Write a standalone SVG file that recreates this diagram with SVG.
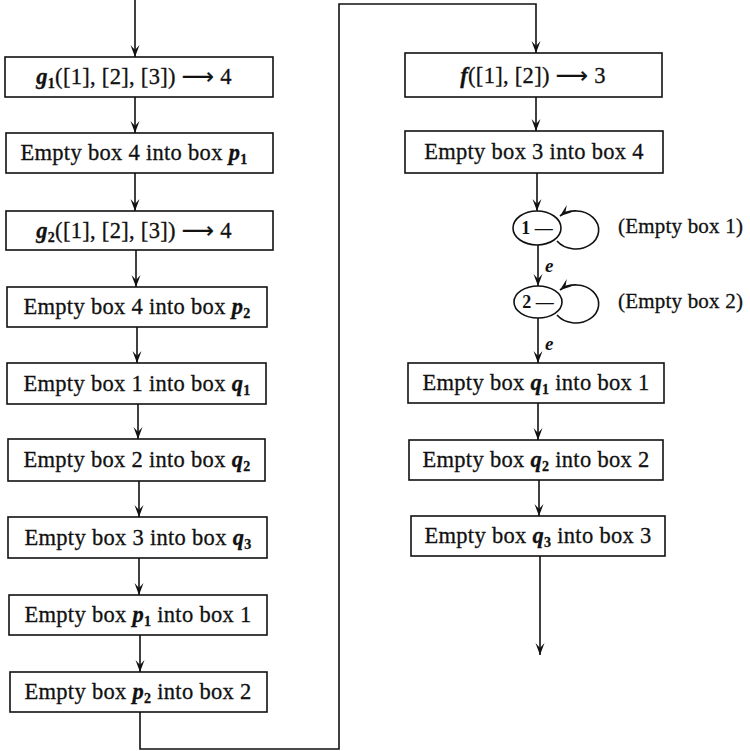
<svg xmlns="http://www.w3.org/2000/svg" width="750" height="751" viewBox="0 0 750 751">
<defs>
<style>
.box{fill:#fff;stroke:#111;stroke-width:1.6}
.ln{fill:none;stroke:#111;stroke-width:1.6}
.t{font-family:"Liberation Serif",serif;font-size:22.5px;fill:#111;text-anchor:middle;letter-spacing:0.3px;stroke:#111;stroke-width:0.3}
.tl{font-family:"Liberation Serif",serif;font-size:21px;fill:#111;letter-spacing:0.2px;stroke:#111;stroke-width:0.3}
.i{font-style:italic;font-weight:bold}
.s{font-size:14px;font-weight:bold}
.ar{font-family:"DejaVu Sans",sans-serif}
.c{font-family:"Liberation Serif",serif;font-size:18px;fill:#111;text-anchor:middle;font-weight:bold}
.e{font-family:"Liberation Serif",serif;font-size:19px;font-style:italic;font-weight:bold;fill:#111}
</style>
<marker id="ah" viewBox="-12 -5 13 10" refX="0" refY="0" markerWidth="13" markerHeight="10" markerUnits="userSpaceOnUse" orient="auto">
<path d="M0,0 L-12,-4.5 L-7,0 L-12,4.5 Z" fill="#111"/>
</marker>
</defs>
<g id="connectors">
<line class="ln" x1="135" y1="0" x2="135" y2="57" marker-end="url(#ah)"/>
<line class="ln" x1="135" y1="97" x2="135" y2="133" marker-end="url(#ah)"/>
<line class="ln" x1="135" y1="173" x2="135" y2="211" marker-end="url(#ah)"/>
<line class="ln" x1="136" y1="250" x2="136" y2="287" marker-end="url(#ah)"/>
<line class="ln" x1="137" y1="327" x2="137" y2="363" marker-end="url(#ah)"/>
<line class="ln" x1="138" y1="404" x2="138" y2="439" marker-end="url(#ah)"/>
<line class="ln" x1="139" y1="481" x2="139" y2="517" marker-end="url(#ah)"/>
<line class="ln" x1="139" y1="558" x2="139" y2="595" marker-end="url(#ah)"/>
<line class="ln" x1="140" y1="635" x2="140" y2="672" marker-end="url(#ah)"/>
<polyline class="ln" points="140,712 140,749 339,749 339,4 536,4 536,53" marker-end="url(#ah)"/>
<line class="ln" x1="536" y1="97" x2="536" y2="131" marker-end="url(#ah)"/>
<line class="ln" x1="537" y1="173" x2="537" y2="211" marker-end="url(#ah)"/>
<line class="ln" x1="538" y1="245" x2="538" y2="286" marker-end="url(#ah)"/>
<line class="ln" x1="538" y1="318" x2="538" y2="363" marker-end="url(#ah)"/>
<line class="ln" x1="538" y1="403" x2="538" y2="440" marker-end="url(#ah)"/>
<line class="ln" x1="539" y1="480" x2="539" y2="516" marker-end="url(#ah)"/>
<line class="ln" x1="540" y1="556" x2="540" y2="655" marker-end="url(#ah)"/>
<path class="ln" d="M557,241 A23 19 0 1 0 560,216" marker-end="url(#ah)"/>
<path class="ln" d="M557,315 A23 19 0 1 0 560,290" marker-end="url(#ah)"/>
<text class="e" x="545" y="272">e</text>
<text class="e" x="545" y="350">e</text>
</g>
<g id="n1"><rect class="box" x="5" y="57" width="268" height="40"/>
<text class="t" x="134" y="84"><tspan class="i">g</tspan><tspan class="s" dy="4">1</tspan><tspan dy="-4">([1], [2], [3]) </tspan><tspan class="ar">⟶</tspan> 4</text></g>
<g id="n2"><rect class="box" x="6" y="133" width="267" height="40"/>
<text class="t" x="134" y="160">Empty box 4 into box <tspan class="i">p</tspan><tspan class="s" dy="4">1</tspan></text></g>
<g id="n3"><rect class="box" x="6" y="211" width="267" height="39"/>
<text class="t" x="134" y="238"><tspan class="i">g</tspan><tspan class="s" dy="4">2</tspan><tspan dy="-4">([1], [2], [3]) </tspan><tspan class="ar">⟶</tspan> 4</text></g>
<g id="n4"><rect class="box" x="7" y="287" width="260" height="40"/>
<text class="t" x="137" y="314">Empty box 4 into box <tspan class="i">p</tspan><tspan class="s" dy="4">2</tspan></text></g>
<g id="n5"><rect class="box" x="7" y="363" width="259" height="41"/>
<text class="t" x="137" y="391">Empty box 1 into box <tspan class="i">q</tspan><tspan class="s" dy="4">1</tspan></text></g>
<g id="n6"><rect class="box" x="8" y="439" width="257" height="42"/>
<text class="t" x="137" y="467">Empty box 2 into box <tspan class="i">q</tspan><tspan class="s" dy="4">2</tspan></text></g>
<g id="n7"><rect class="box" x="8" y="517" width="259" height="41"/>
<text class="t" x="138" y="545">Empty box 3 into box <tspan class="i">q</tspan><tspan class="s" dy="4">3</tspan></text></g>
<g id="n8"><rect class="box" x="9" y="595" width="258" height="40"/>
<text class="t" x="138" y="622">Empty box <tspan class="i">p</tspan><tspan class="s" dy="4">1</tspan><tspan dy="-4"> into box 1</tspan></text></g>
<g id="n9"><rect class="box" x="10" y="672" width="257" height="40"/>
<text class="t" x="138" y="699">Empty box <tspan class="i">p</tspan><tspan class="s" dy="4">2</tspan><tspan dy="-4"> into box 2</tspan></text></g>
<g id="r1"><rect class="box" x="405" y="53" width="257" height="44"/>
<text class="t" x="533" y="83"><tspan class="i">f</tspan>([1], [2]) <tspan class="ar">⟶</tspan> 3</text></g>
<g id="r2"><rect class="box" x="405" y="131" width="258" height="42"/>
<text class="t" x="534" y="159">Empty box 3 into box 4</text></g>
<g id="c1"><ellipse class="box" cx="537" cy="228" rx="24" ry="17"/>
<text class="c" x="537" y="234">1 —</text></g>
<g id="c2"><ellipse class="box" cx="538" cy="302" rx="24" ry="16"/>
<text class="c" x="538" y="308">2 —</text></g>
<g id="l1"><text class="tl" x="618" y="233">(Empty box 1)</text></g>
<g id="l2"><text class="tl" x="618" y="308">(Empty box 2)</text></g>
<g id="r3"><rect class="box" x="408" y="363" width="256" height="40"/>
<text class="t" x="536" y="390">Empty box <tspan class="i">q</tspan><tspan class="s" dy="4">1</tspan><tspan dy="-4"> into box 1</tspan></text></g>
<g id="r4"><rect class="box" x="409" y="440" width="254" height="40"/>
<text class="t" x="536" y="467">Empty box <tspan class="i">q</tspan><tspan class="s" dy="4">2</tspan><tspan dy="-4"> into box 2</tspan></text></g>
<g id="r5"><rect class="box" x="411" y="516" width="254" height="40"/>
<text class="t" x="538" y="543">Empty box <tspan class="i">q</tspan><tspan class="s" dy="4">3</tspan><tspan dy="-4"> into box 3</tspan></text></g>
</svg>
